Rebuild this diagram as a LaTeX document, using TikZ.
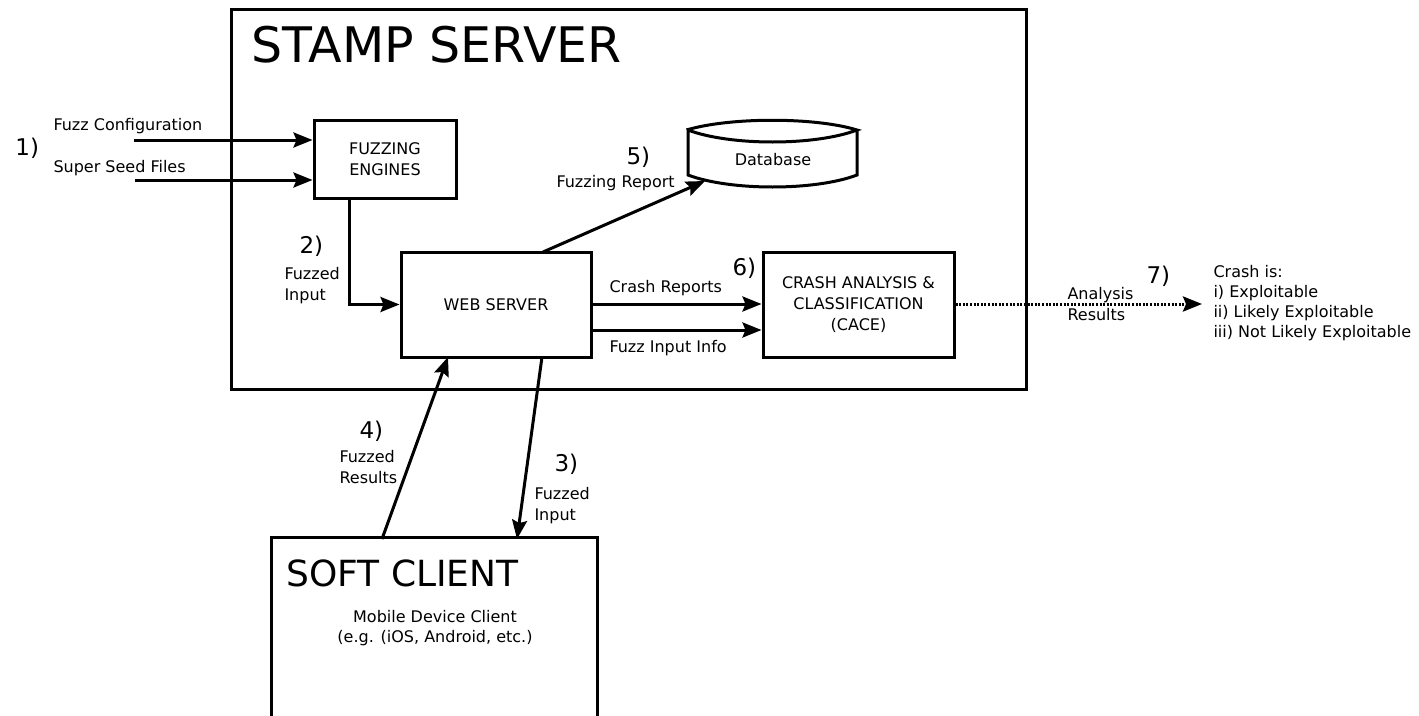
\documentclass[tikz,border=0pt]{standalone}
\usepackage{fontspec}
\setmainfont{DejaVu Sans}
\usetikzlibrary{arrows.meta,calc}
\begin{document}
\begin{tikzpicture}[x=1pt,y=-1pt,
  line width=3pt,
  box/.style={draw,inner sep=0pt,align=center,font=\fontsize{16}{21}\selectfont},
  lbl/.style={anchor=base west,inner sep=0pt,font=\fontsize{16}{20.5}\selectfont,align=left},
  num/.style={anchor=base west,inner sep=0pt,font=\fontsize{23}{26}\selectfont},
  big/.style={anchor=base west,inner sep=0pt},
  arr/.style={-{Stealth[length=19pt,width=15pt,inset=3pt]}},
]
\useasboundingbox (0,0) rectangle (1419,715);
% STAMP SERVER frame
\node[draw,inner sep=0pt,minimum width=795pt,minimum height=380pt] (stamp) at (628.5,199) {};
\node[big,font=\fontsize{49}{52}\selectfont] (stamptitle) at (250,62) {STAMP SERVER};
% boxes
\node[box,minimum width=142pt,minimum height=78pt] (fe) at (385,159.5) {FUZZING\\ENGINES};
\node[box,minimum width=190pt,minimum height=105pt] (ws) at (496,304.5) {WEB SERVER};
\node[box,minimum width=191pt,minimum height=105pt] (cr) at (858.5,304.5) {CRASH ANALYSIS \&\\CLASSIFICATION\\(CACE)};
% database
\node[inner sep=0pt,minimum width=169pt,minimum height=45pt] (db) at (772.5,152.5) {};
\node[anchor=base,inner sep=0pt,font=\fontsize{16}{20}\selectfont] (dbtext) at (773,165) {Database};
\draw (db.west |- 0,130) .. controls (730,117) and (815,117) .. (857,130)
      .. controls (815,146) and (730,146) .. (688,130) -- (688,175)
      .. controls (730,191) and (815,191) .. (857,175) -- (857,130);
% soft client (open at the bottom)
\node[inner sep=0pt,minimum width=323pt,minimum height=190pt] (soft) at (434.5,634) {};
\draw (soft.south west) -- (soft.north west) -- (soft.north east) -- (soft.south east);
\node[big,font=\fontsize{36}{40}\selectfont] (softtitle) at (285,586) {SOFT CLIENT};
\node[anchor=base,inner sep=0pt,align=center,font=\fontsize{16}{19.5}\selectfont] (mob) at (435,642) {Mobile Device Client\\(e.g. (iOS, Android, etc.)};
% step 1
\node[num] (n1) at (14,155) {1)};
\node[lbl] (l1a) at (52,130) {Fuzz Configuration};
\node[lbl] (l1b) at (52,172) {Super Seed Files};
\coordinate (fc) at (134,140);
\coordinate (ss) at (135,180);
\draw[arr] (fc) -- (fc -| fe.west);
\draw[arr] (ss) -- (ss -| fe.west);
% step 2
\node[num] (n2) at (298,253) {2)};
\node[lbl] (l2) at (283,300) {Fuzzed\\Input};
\coordinate (feo) at (349,198);
\draw[arr] (feo) |- (ws.west);
% step 5
\node[num] (n5) at (625,164) {5)};
\node[lbl] (l5) at (555,187) {Fuzzing Report};
\coordinate (wsn) at (543,252);
\coordinate (dbin) at (705,181);
\draw[arr] (wsn) -- (dbin);
% step 6
\node[num] (n6) at (731,275) {6)};
\node[lbl] (l6a) at (608,292) {Crash Reports};
\node[lbl] (l6b) at (608,352) {Fuzz Input Info};
\coordinate (cro) at (591,304);
\coordinate (fio) at (591,330);
\draw[arr] (cro) -- (cro -| cr.west);
\draw[arr] (fio) -- (fio -| cr.west);
% step 7
\node[num] (n7) at (1145,283) {7)};
\node[lbl] (l7) at (1066,320) {Analysis\\Results};
\coordinate (res) at (1202,304);
\draw[arr,dash pattern=on 2pt off 1.6pt] (cr.east |- res) -- (res);
\node[lbl,font=\fontsize{16}{20}\selectfont] (crash) at (1212,337) {Crash is:\\i) Exploitable\\ii) Likely Exploitable\\iii) Not Likely Exploitable};
% step 4
\node[num] (n4) at (358,438) {4)};
\node[lbl] (l4) at (338,483) {Fuzzed\\Results};
\coordinate (sco) at (382,539);
\coordinate (wsi) at (448,357);
\draw[arr] (sco) -- (wsi);
% step 3
\node[num] (n3) at (553,471) {3)};
\node[lbl] (l3) at (533,520) {Fuzzed\\Input};
\coordinate (wso) at (542,357);
\coordinate (sci) at (517,539);
\draw[arr] (wso) -- (sci);
\end{tikzpicture}
\end{document}
